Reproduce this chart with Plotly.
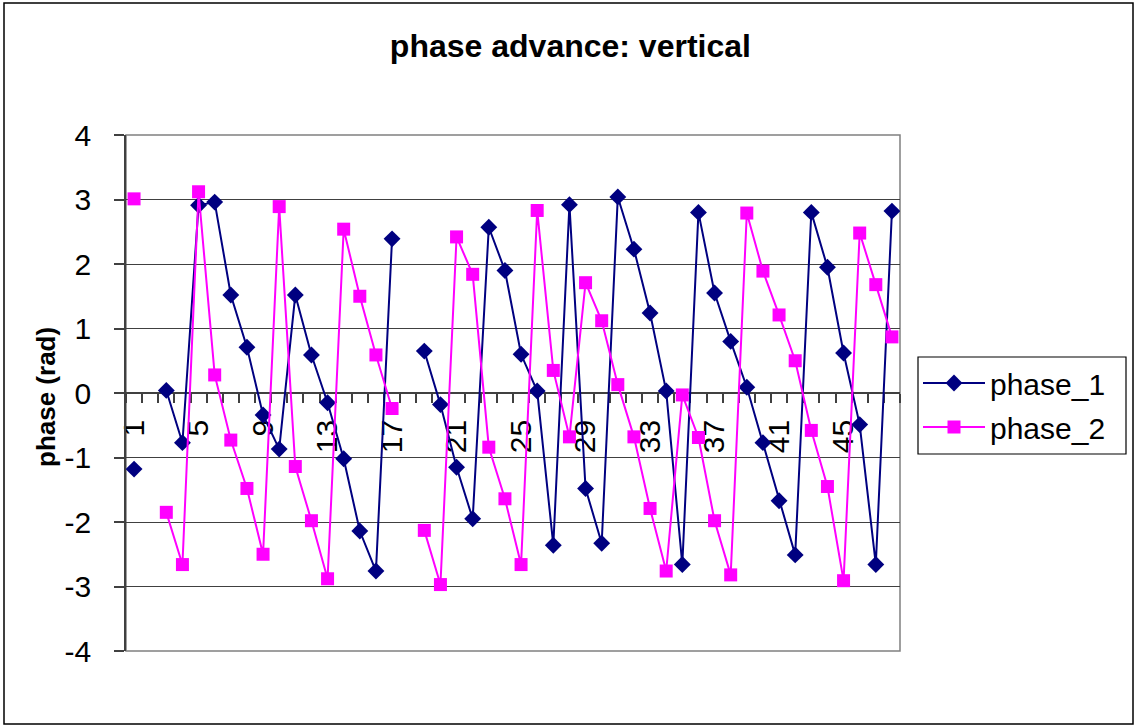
import plotly.graph_objects as go

# Measurement index (1..48); indices 2 and 18 have no data
index = list(range(1, 49))

phase_1 = [
    -1.18, None, 0.04, -0.77, 2.91, 2.96, 1.52, 0.71, -0.34, -0.87,
    1.52, 0.59, -0.15, -1.02, -2.14, -2.76, 2.39, None, 0.65, -0.18,
    -1.15, -1.95, 2.57, 1.90, 0.60, 0.03, -2.36, 2.92, -1.48, -2.33,
    3.04, 2.23, 1.24, 0.03, -2.66, 2.80, 1.55, 0.80, 0.09, -0.77,
    -1.67, -2.51, 2.80, 1.95, 0.62, -0.49, -2.66, 2.82,
]

phase_2 = [
    3.01, None, -1.85, -2.66, 3.12, 0.28, -0.73, -1.48, -2.50, 2.89,
    -1.14, -1.98, -2.88, 2.54, 1.50, 0.59, -0.24, None, -2.13, -2.97,
    2.42, 1.84, -0.84, -1.64, -2.66, 2.83, 0.35, -0.68, 1.71, 1.12,
    0.13, -0.68, -1.79, -2.76, -0.03, -0.69, -1.98, -2.82, 2.79, 1.89,
    1.21, 0.50, -0.58, -1.45, -2.91, 2.48, 1.68, 0.87,
]

x_tick_vals = list(range(1, 49, 4))
x_tick_text = [str(v) for v in x_tick_vals]
y_tick_vals = [-4, -3, -2, -1, 0, 1, 2, 3, 4]
y_tick_text = [str(v) for v in y_tick_vals]  # plain hyphen-minus signs

FONT = "Liberation Sans, Arial, sans-serif"
GRID = "#404040"

W, H = 1134, 725
L, R, T, B = 126, 234, 135, 74
PW = W - L - R
PH = H - T - B


def px_to_paper_x(px):
    return (px - L) / PW


def px_to_paper_y(py):
    return (H - B - py) / PH


fig = go.Figure()

fig.add_trace(go.Scatter(
    x=index, y=phase_1, name="phase_1", mode="lines+markers",
    line=dict(color="#000080", width=2),
    marker=dict(symbol="diamond", size=13, color="#000080"),
    connectgaps=False, legendgroup="a",
))
fig.add_trace(go.Scatter(
    x=index, y=phase_2, name="phase_2", mode="lines+markers",
    line=dict(color="#FF00FF", width=2),
    marker=dict(symbol="square", size=13, color="#FF00FF"),
    connectgaps=False, legendgroup="b",
))

fig.update_layout(
    width=W, height=H,
    margin=dict(l=L, r=R, t=T, b=B, pad=0),
    paper_bgcolor="white", plot_bgcolor="white",
    font=dict(family=FONT, color="black", size=29),
    title=dict(
        text="<b>phase advance: vertical</b>",
        font=dict(family=FONT, size=32, color="black"),
        xref="container", x=0.503, xanchor="center",
        yref="container", y=1 - 46 / H, yanchor="middle",
    ),
    showlegend=True,
    legend=dict(
        x=px_to_paper_x(918), y=px_to_paper_y(357),
        xanchor="left", yanchor="top",
        borderwidth=0, bgcolor="rgba(0,0,0,0)",
        font=dict(family=FONT, size=30, color="black"),
        traceorder="grouped", tracegroupgap=2,
        itemwidth=62,
    ),
    xaxis=dict(
        range=[0.5, 48.5], anchor="free", position=0.5,
        tickmode="array", tickvals=x_tick_vals, ticktext=x_tick_text,
        tickangle=-90, ticks="", ticklabelstandoff=14,
        tickfont=dict(family=FONT, size=30, color="black"),
        minor=dict(tickmode="array", tickvals=[i + 0.5 for i in range(0, 49)],
                   ticks="outside", ticklen=9, tickwidth=1.5, tickcolor=GRID,
                   showgrid=False),
        showgrid=False, zeroline=False,
        showline=True, linecolor=GRID, linewidth=1.5,
        layer="below traces",
    ),
    yaxis=dict(
        range=[-4, 4], tickmode="array", tickvals=y_tick_vals,
        ticktext=y_tick_text,
        ticks="outside", ticklen=10, tickwidth=1.5, tickcolor=GRID,
        ticklabelstandoff=17,
        tickfont=dict(family=FONT, size=30, color="black"),
        showgrid=True, gridcolor=GRID, gridwidth=1.2,
        zeroline=False, showline=True, linecolor=GRID, linewidth=1.5,
    ),
    shapes=[
        # plot area frame
        dict(type="rect", xref="paper", yref="paper", x0=0, x1=1, y0=0, y1=1,
             line=dict(color="#808080", width=1.5), layer="below"),
        # legend box
        dict(type="rect", xref="paper", yref="paper",
             x0=px_to_paper_x(918), x1=px_to_paper_x(1126),
             y0=px_to_paper_y(454), y1=px_to_paper_y(357),
             line=dict(color="black", width=1.2)),
        # outer chart border
        dict(type="rect", xref="paper", yref="paper",
             x0=px_to_paper_x(4), x1=px_to_paper_x(1133),
             y0=px_to_paper_y(724), y1=px_to_paper_y(3),
             line=dict(color="black", width=1.5)),
    ],
    annotations=[
        dict(text="<b>phase (rad)</b>", textangle=-90,
             xref="paper", yref="paper",
             x=px_to_paper_x(46), y=px_to_paper_y(397),
             xanchor="center", yanchor="middle", showarrow=False,
             font=dict(family=FONT, size=26, color="black")),
    ],
)

fig.write_html("out.html")
